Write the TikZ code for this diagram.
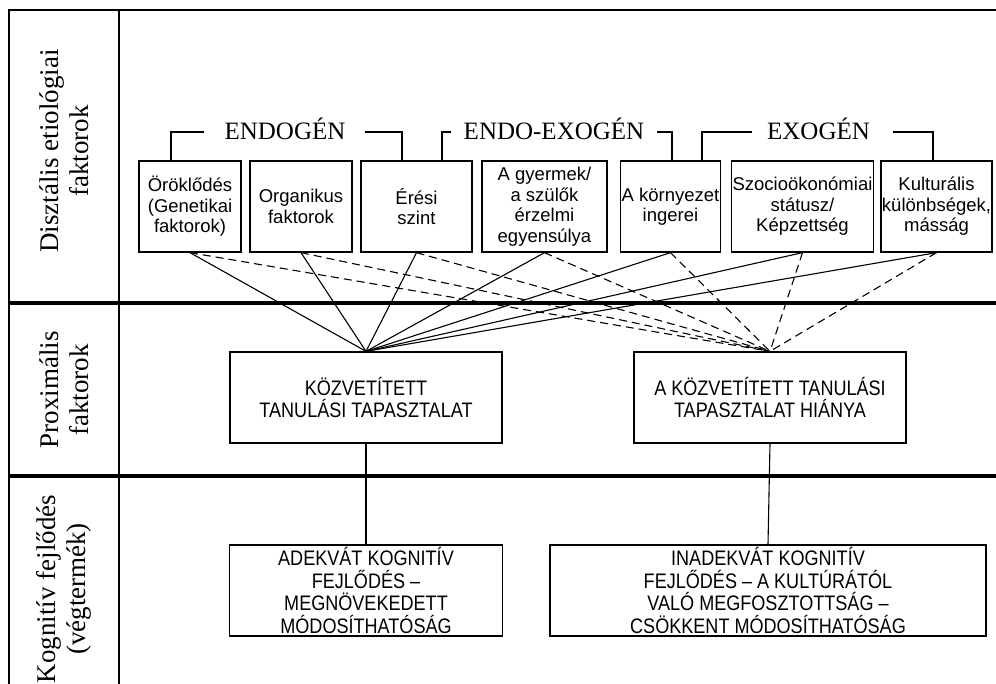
\documentclass[tikz,border=0pt]{standalone}
\usepackage{fontspec}
\setmainfont{Liberation Serif}
\newfontfamily\arialfont{Liberation Sans}
\newfontfamily\narrowfont[FakeStretch=0.86]{Liberation Sans}
\usetikzlibrary{arrows,calc}

\begin{document}
\begin{tikzpicture}
[x=1pt, y=-1pt,
factor/.style={draw, line width=1.3pt, inner sep=1pt, align=center,
	minimum height=91pt, font=\arialfont\fontsize{18.5}{20.5}\selectfont},
outcome/.style={draw, line width=1.3pt, inner sep=1pt, align=center,
	minimum height=91pt, font=\narrowfont\fontsize{21}{22.4}\selectfont},
group/.style={inner sep=0pt, text height=16pt, text depth=0pt,
	font=\fontsize{25}{28}\selectfont},
rowlabel/.style={rotate=90, align=center, inner sep=0pt,
	font=\fontsize{27}{30}\selectfont},
full link/.style={line width=1.1pt},
broken link/.style={line width=1.1pt, dash pattern=on 8pt off 5pt}]
\useasboundingbox (0,0) rectangle (996,684);

\draw[line width=2.6pt] (8,10) -- (996,10);
\draw[line width=1.8pt] (9,10) -- (9,684);
\draw[line width=1.5pt] (119,10) -- (119,684);
\draw[line width=3.2pt] (8,303) -- (996,303);
\draw[line width=3.2pt] (8,476) -- (996,476);

\node[rowlabel] (distal) at (64,151) {Disztális etiológiai\\faktorok};
\node[rowlabel] (proximal) at (64,390) {Proximális\\faktorok};
\node[rowlabel] (kognitiv) at (64,589) {Kognitív fejlődés\\(végtermék)};

\node[factor, minimum width=102pt] (oroklodes) at (190,206.5) {Öröklődés\\(Genetikai\\faktorok)};
\node[factor, minimum width=102pt] (organikus) at (301,206.5) {Organikus\\faktorok};
\node[factor, minimum width=111pt] (eresi) at (416.5,206.5) {Érési\\szint};
\node[factor, minimum width=125pt] (gyermek) at (544.5,206.5) {A gyermek/\\a szülők\\érzelmi\\egyensúlya};
\node[factor, minimum width=99pt] (kornyezet) at (670.5,206.5) {A környezet\\ingerei};
\node[factor, minimum width=141pt] (szocio) at (802.5,206.5) {Szocioökonómiai\\státusz/\\Képzettség};
\node[factor, minimum width=109pt] (kulturalis) at (936.5,206.5) {Kulturális\\különbségek,\\másság};

\node[group] (endo) at (285,132) {ENDOGÉN};
\node[group] (endoexo) at (554,132) {ENDO-EXOGÉN};
\node[group] (exo) at (818.5,132) {EXOGÉN};

\draw[line width=1.3pt] ([xshift=-19pt]oroklodes.north) |- ([xshift=-20pt]endo.west);
\draw[line width=1.3pt] ([xshift=19pt]endo.east) -| ([xshift=-14.5pt]eresi.north);
\draw[line width=1.3pt] ([xshift=25.5pt]eresi.north) |- ([xshift=-13pt]endoexo.west);
\draw[line width=1.3pt] ([xshift=13pt]endoexo.east) -| ([xshift=1.5pt]kornyezet.north);
\draw[line width=1.3pt] ([xshift=31.5pt]kornyezet.north) |- ([xshift=-15pt]exo.west);
\draw[line width=1.3pt] ([xshift=23pt]exo.east) -| ([xshift=-3.5pt]kulturalis.north);

\node[outcome, minimum width=272pt] (kozv) at (366,397.5) {KÖZVETÍTETT\\TANULÁSI TAPASZTALAT};
\node[outcome, minimum width=272pt] (hiany) at (770,397.5) {A KÖZVETÍTETT TANULÁSI\\TAPASZTALAT HIÁNYA};

\node[outcome, minimum width=273pt] (adekvat) at (366,590.5) {ADEKVÁT KOGNITÍV\\FEJLŐDÉS –\\MEGNÖVEKEDETT\\MÓDOSÍTHATÓSÁG};
\node[outcome, minimum width=436pt] (inadekvat) at (768,590.5) {INADEKVÁT KOGNITÍV\\FEJLŐDÉS – A KULTÚRÁTÓL\\VALÓ MEGFOSZTOTTSÁG –\\CSÖKKENT MÓDOSÍTHATÓSÁG};

\foreach \f in {oroklodes,organikus,eresi,gyermek,kornyezet,szocio,kulturalis}
{
	\draw[full link] (\f.south) -- (kozv.north);
	\draw[broken link] (\f.south) -- (hiany.north);
}
\draw[full link] (kozv.south) -- (adekvat.north);
\draw[full link] (hiany.south) -- (inadekvat.north);
\end{tikzpicture}
\end{document}
